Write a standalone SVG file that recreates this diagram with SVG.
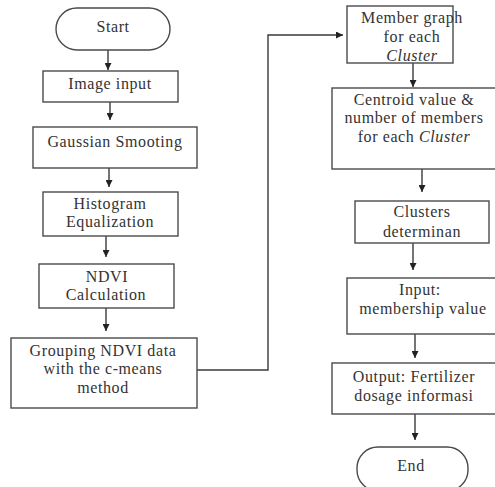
<svg xmlns="http://www.w3.org/2000/svg" width="495" height="487" viewBox="0 0 495 487">
<style>
.b{fill:#fff;stroke:#4a4a4a;stroke-width:1.4}
.t{font-family:"Liberation Serif","Times New Roman",serif;font-size:16px;letter-spacing:0.6px;fill:#333;text-anchor:middle}
.c{fill:none;stroke:#3a3a3a;stroke-width:1.4}
.i{font-style:italic}
</style>
<defs>
<marker id="ah" viewBox="0 0 10 10" refX="10" refY="5" markerWidth="7" markerHeight="7" markerUnits="userSpaceOnUse" orient="auto">
<path d="M0,0 L10,5 L0,10 z" fill="#222"/>
</marker>
</defs>
<rect width="495" height="487" fill="#fff"/>
<g id="connectors">
<line class="c" x1="108" y1="50" x2="108" y2="70" marker-end="url(#ah)"/>
<line class="c" x1="110" y1="102" x2="110" y2="120" marker-end="url(#ah)"/>
<line class="c" x1="109" y1="168" x2="109" y2="187" marker-end="url(#ah)"/>
<line class="c" x1="106" y1="236" x2="106" y2="257" marker-end="url(#ah)"/>
<line class="c" x1="106" y1="308" x2="106" y2="331" marker-end="url(#ah)"/>
<polyline class="c" points="197,370 268,370 268,35 343,35" marker-end="url(#ah)"/>
<line class="c" x1="413" y1="63" x2="413" y2="87" marker-end="url(#ah)"/>
<line class="c" x1="422" y1="169" x2="422" y2="192" marker-end="url(#ah)"/>
<line class="c" x1="413" y1="243" x2="413" y2="270" marker-end="url(#ah)"/>
<line class="c" x1="415" y1="334" x2="415" y2="358" marker-end="url(#ah)"/>
<line class="c" x1="415" y1="414" x2="415" y2="440" marker-end="url(#ah)"/>
</g>
<g id="start"><rect class="b" x="56" y="8" width="114" height="42" rx="21"/><text class="t" x="113" y="32">Start</text></g>
<g id="image-input"><rect class="b" x="43" y="71" width="135" height="31"/><text class="t" x="110" y="89">Image input</text></g>
<g id="gaussian"><rect class="b" x="33" y="127" width="164" height="41"/><text class="t" x="115" y="147">Gaussian Smooting</text></g>
<g id="histogram"><rect class="b" x="43" y="192" width="135" height="44"/><text class="t" x="110" y="209">Histogram</text><text class="t" x="110" y="227">Equalization</text></g>
<g id="ndvi"><rect class="b" x="39" y="264" width="135" height="44"/><text class="t" x="107" y="282">NDVI</text><text class="t" x="106" y="300">Calculation</text></g>
<g id="grouping"><rect class="b" x="11" y="338" width="186" height="70"/><text class="t" x="103" y="356">Grouping NDVI data</text><text class="t" x="103" y="374">with the c-means</text><text class="t" x="103" y="393">method</text></g>
<g id="member-graph"><rect class="b" x="347" y="6" width="106" height="57"/><text class="t" x="412" y="23">Member graph</text><text class="t" x="412" y="42">for each</text><text class="t i" x="412" y="61">Cluster</text></g>
<g id="centroid"><rect class="b" x="332" y="88" width="166" height="81"/><text class="t" x="414" y="105">Centroid value &amp;</text><text class="t" x="414" y="123">number of members</text><text class="t" x="414" y="142">for each <tspan class="i">Cluster</tspan></text></g>
<g id="clusters"><rect class="b" x="355" y="201" width="134" height="42"/><text class="t" x="422" y="217">Clusters</text><text class="t" x="422" y="237">determinan</text></g>
<g id="input"><rect class="b" x="347" y="278" width="151" height="56"/><text class="t" x="420" y="295">Input:</text><text class="t" x="423" y="314">membership value</text></g>
<g id="output"><rect class="b" x="332" y="363" width="166" height="51"/><text class="t" x="414" y="382">Output: Fertilizer</text><text class="t" x="414" y="401">dosage informasi</text></g>
<g id="end"><rect class="b" x="357" y="447" width="111" height="44" rx="21"/><text class="t" x="411" y="471">End</text></g>
</svg>
